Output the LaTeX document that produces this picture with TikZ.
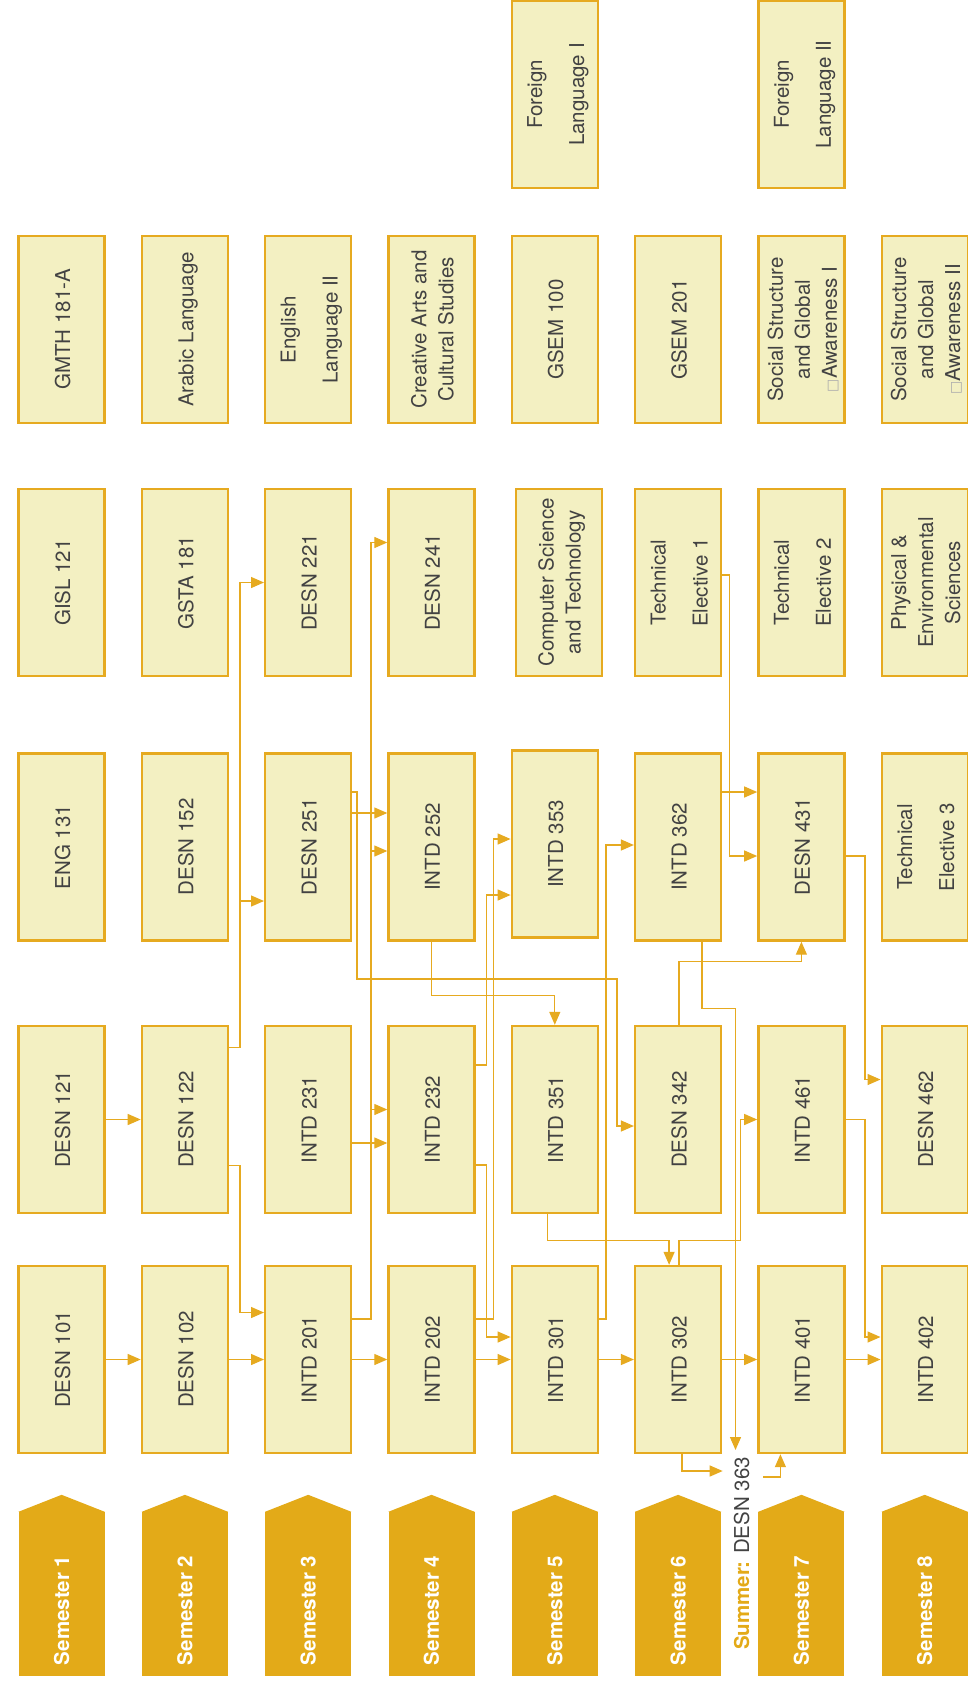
\documentclass[tikz,border=0pt]{standalone}
\usepackage{fontspec}
\setmainfont{TeX Gyre Heros}
\newfontfamily\dejavu{DejaVu Sans}
\usepackage{xcolor}
\usetikzlibrary{arrows.meta,positioning}

\definecolor{boxfill}{RGB}{243,240,194}
\definecolor{gold}{RGB}{230,170,32}
\definecolor{semgold}{RGB}{227,170,24}
\definecolor{txtgray}{RGB}{66,66,66}

\newcommand{\vtext}[1]{\rotatebox{90}{\raisebox{-3pt}[\height][\depth]{\begin{tabular}{@{}c@{}}#1\end{tabular}}}}
\newcommand{\semtext}[1]{\rotatebox{90}{\makebox[142pt][l]{#1}}}
\newcommand{\nochar}{{\dejavu\color{black!32}\fontsize{14}{14}\selectfont □}}

\begin{document}
\begin{tikzpicture}[
    x=1pt, y=-1pt,
    node distance=123.3pt,
    course/.style={rectangle, draw=gold, line width=2.4pt, fill=boxfill, minimum width=86pt, minimum height=187pt, inner sep=0pt, text=txtgray, font=\fontsize{20.5}{27}\selectfont},
    semester/.style={rectangle, fill=semgold, minimum width=86pt, minimum height=164pt, inner sep=0pt, text=white, font=\fontsize{20.5}{24}\selectfont\bfseries},
    conn/.style={draw=gold, line width=1.3pt, -{Triangle[length=13pt,width=11pt]}}
]
\useasboundingbox (0,0) rectangle (967,1682);

% Semester 1..8 row
\node[course] (d101) at (61.6,1359.5) {\vtext{DESN 101}};
\node[course, right of=d101] (d102) {\vtext{DESN 102}};
\node[course, right of=d102] (i201) {\vtext{INTD 201}};
\node[course, right of=i201] (i202) {\vtext{INTD 202}};
\node[course, right of=i202] (i301) {\vtext{INTD 301}};
\node[course, right of=i301] (i302) {\vtext{INTD 302}};
\node[course, right of=i302] (i401) {\vtext{INTD 401}};
\node[course, right of=i401] (i402) {\vtext{INTD 402}};

\node[course] (d121) at (61.6,1119.5) {\vtext{DESN 121}};
\node[course, right of=d121] (d122) {\vtext{DESN 122}};
\node[course, right of=d122] (i231) {\vtext{INTD 231}};
\node[course, right of=i231] (i232) {\vtext{INTD 232}};
\node[course, right of=i232] (i351) {\vtext{INTD 351}};
\node[course, right of=i351] (d342) {\vtext{DESN 342}};
\node[course, right of=d342] (i461) {\vtext{INTD 461}};
\node[course, right of=i461] (d462) {\vtext{DESN 462}};

\node[course] (eng) at (61.6,847) {\vtext{ENG 131}};
\node[course, right of=eng] (d152) {\vtext{DESN 152}};
\node[course, right of=d152] (d251) {\vtext{DESN 251}};
\node[course, right of=d251] (i252) {\vtext{INTD 252}};
\node[course, right of=i252, yshift=3pt] (i353) {\vtext{INTD 353}};
\node[course, node distance=246.6pt, right of=i252] (i362) {\vtext{INTD 362}};
\node[course, right of=i362] (d431) {\vtext{DESN 431}};
\node[course, right of=d431] (te3) {\vtext{Technical\\[15pt]Elective 3}};

\node[course] (gisl) at (61.6,582.5) {\vtext{GISL 121}};
\node[course, right of=gisl] (gsta) {\vtext{GSTA 181}};
\node[course, right of=gsta] (d221) {\vtext{DESN 221}};
\node[course, right of=d221] (d241) {\vtext{DESN 241}};
\node[course, right of=d241, xshift=4pt] (cst) {\vtext{Computer Science\\and Technology}};
\node[course, node distance=246.6pt, right of=d241] (te1) {\vtext{Technical\\[15pt]Elective 1}};
\node[course, right of=te1] (te2) {\vtext{Technical\\[15pt]Elective 2}};
\node[course, right of=te2] (pes) {\vtext{Physical \&\\Environmental\\Sciences}};

\node[course] (gmth) at (61.6,329.5) {\vtext{GMTH 181-A}};
\node[course, right of=gmth] (arab) {\vtext{Arabic Language}};
\node[course, right of=arab] (engl) {\vtext{English\\[15pt]Language II}};
\node[course, right of=engl] (crea) {\vtext{Creative Arts and\\Cultural Studies}};
\node[course, right of=crea] (g100) {\vtext{GSEM 100}};
\node[course, right of=g100] (g201) {\vtext{GSEM 201}};
\node[course, right of=g201] (ssg1) {\vtext{Social Structure\\and Global\\\nochar Awareness I}};
\node[course, right of=ssg1] (ssg2) {\vtext{Social Structure\\and Global\\\nochar Awareness II}};

\node[course] (fl1) at (554.8,94.5) {\vtext{Foreign\\[15pt]Language I}};
\node[course, node distance=246.6pt, right of=fl1] (fl2) {\vtext{Foreign\\[15pt]Language II}};

% Semester tabs
\node[semester] (s1) at (61.6,1594) {\semtext{Semester 1}};
\node[semester, right of=s1] (s2) {\semtext{Semester 2}};
\node[semester, right of=s2] (s3) {\semtext{Semester 3}};
\node[semester, right of=s3] (s4) {\semtext{Semester 4}};
\node[semester, right of=s4] (s5) {\semtext{Semester 5}};
\node[semester, right of=s5] (s6) {\semtext{Semester 6}};
\node[semester, right of=s6] (s7) {\semtext{Semester 7}};
\node[semester, right of=s7] (s8) {\semtext{Semester 8}};
\foreach \i in {1,...,8}
    \fill[semgold] (s\i.north west) -- ([yshift=17pt]s\i.north) -- (s\i.north east) -- cycle;

% Summer course
\node[inner sep=0pt, font=\fontsize{20.5}{24}\selectfont] (summer) at (741.7,1553.5)
    {\rotatebox{90}{\textcolor{semgold}{\bfseries Summer:} \textcolor{txtgray}{DESN 363}}};
\coordinate (sumtop) at (735.5,1450);
\coordinate (sumin) at (722.7,1471);
\coordinate (sumout) at (763,1477);

% Straight arrows
\draw[conn] (d101) -- (d102);
\draw[conn] (d102) -- (i201);
\draw[conn] (i201) -- (i202);
\draw[conn] (i202) -- (i301);
\draw[conn] (i301) -- (i302);
\draw[conn] (i302) -- (i401);
\draw[conn] (i401) -- (i402);
\draw[conn] (d121) -- (d122);
\draw[conn] ([yshift=-23.5pt]i231.east) -- ([yshift=-23.5pt]i232.west);
\draw[conn] ([yshift=34pt]d251.east) -- ([yshift=34pt]i252.west);
\draw[conn] ([yshift=55pt]i362.east) -- ([yshift=55pt]d431.west);

% Prerequisite lines
\draw[conn] ([yshift=-46pt]d122.east) -- ++(11,0) |- ([yshift=47pt]i201.west);
\draw[conn] ([yshift=72pt]d122.east) -- ++(11,0) |- (d221.west);
\draw[conn] ([yshift=72pt]d122.east) -- ++(11,0) |- ([yshift=-54pt]d251.west);
\draw[conn] ([yshift=40.5pt]i201.east) -- ++(18.5,0) |- ([yshift=40pt]d241.west);
\draw[conn] ([yshift=40.5pt]i201.east) -- ++(18.5,0) |- ([yshift=-4pt]i252.west);
\draw[conn] ([yshift=40.5pt]i201.east) -- ++(18.5,0) |- ([yshift=10pt]i232.west);
\draw[conn] ([yshift=55pt]d251.east) -- ++(4.5,0) |- (617,979) |- ([yshift=-6.5pt]d342.west);
\draw[conn] (i252.south) -- ++(0,54) -| (i351.north);
\draw[conn] ([yshift=40.5pt]i202.east) -- ++(17.5,0) |- ([yshift=5pt]i353.west);
\draw[conn] ([yshift=54.5pt]i232.east) -- ++(10.5,0) |- ([yshift=-51pt]i353.west);
\draw[conn] ([yshift=-45.5pt]i232.east) -- ++(10.5,0) |- ([yshift=22.5pt]i301.west);
\draw[conn] ([yshift=40.5pt]i301.east) -- ++(7,0) |- ([yshift=2pt]i362.west);
\draw[conn] ([xshift=-7.5pt]i351.south) -- ++(0,26) -| ([xshift=-9pt]i302.north);
\draw[conn] ([xshift=1pt]i302.north) -- ++(0,-24) -- ++(61.7,0) |- (i461.west);
\draw[conn] ([xshift=1pt]d342.north) -- ++(0,-63) -| (d431.south);
\draw[conn] ([xshift=24pt]i362.south) -- ++(0,67) -| (sumtop);
\draw[conn] ([yshift=7.5pt]te1.east) -- ++(7.5,0) |- ([yshift=-9pt]d431.west);
\draw[conn] ([yshift=-9pt]d431.east) -- ++(19.5,0) |- ([yshift=40pt]d462.west);
\draw[conn] (i461.east) -- ++(19.5,0) |- ([yshift=22.5pt]i402.west);
\draw[conn] ([xshift=4pt]i302.south) |- (sumin);
\draw[conn] (sumout) -| ([xshift=-21pt]i401.south);

\end{tikzpicture}
\end{document}
